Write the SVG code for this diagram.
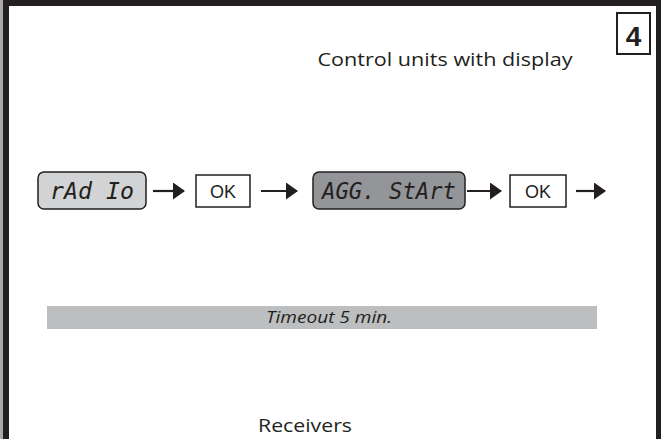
<svg xmlns="http://www.w3.org/2000/svg" width="663" height="439" viewBox="0 0 663 439">
<style>
.lbl{font-family:"Open Sans","Liberation Sans",sans-serif;fill:#231f20}
.seg{font-family:"DejaVu Sans Mono","Liberation Mono",monospace;font-style:oblique;fill:#231f20;font-size:23px}
.ok{font-family:"Liberation Sans",Arial,sans-serif;font-size:18px;fill:#231f20;text-anchor:middle}
.btn{fill:#ffffff;stroke:#231f20;stroke-width:1.5}
.disp{stroke:#231f20;stroke-width:1.5}
.conn line{stroke:#231f20;stroke-width:2.2}
</style>
<defs>
<marker id="ah" viewBox="0 0 12 17" refX="11" refY="8.5" markerWidth="12" markerHeight="17" markerUnits="userSpaceOnUse" orient="auto">
<path d="M0,0 L12,8.5 L0,17 Z" fill="#231f20"/>
</marker>
</defs>
<rect x="0" y="0" width="663" height="439" fill="#ffffff"/>
<rect x="0" y="0" width="3" height="439" fill="#a7a9ac"/>
<rect x="3" y="0" width="6" height="439" fill="#231f20"/>
<rect x="3" y="0" width="658" height="6" fill="#231f20"/>
<rect x="656" y="0" width="5" height="439" fill="#231f20"/>

<g id="badge">
<rect x="617" y="13" width="33" height="41" fill="#ffffff" stroke="#231f20" stroke-width="2"/>
<text x="633.5" y="46" font-family="Liberation Sans,Arial,sans-serif" font-weight="bold" font-size="28" text-anchor="middle" fill="#231f20">4</text>
</g>

<g id="title">
<text class="lbl" x="445" y="66" font-size="19" text-anchor="middle" textLength="255" lengthAdjust="spacingAndGlyphs">Control units with display</text>
</g>

<g id="radio">
<rect class="disp" x="38" y="172" width="108" height="37" rx="6" fill="#d1d3d4"/>
<text class="seg" x="92" y="199" text-anchor="middle" textLength="84" lengthAdjust="spacingAndGlyphs">rAd Io</text>
</g>

<g id="ok1">
<rect class="btn" x="196" y="175" width="54" height="32"/>
<text class="ok" x="223" y="198">OK</text>
</g>

<g id="aggstart">
<rect class="disp" x="313" y="172" width="152" height="37" rx="6" fill="#939598"/>
<text class="seg" x="389" y="199" text-anchor="middle" textLength="134" lengthAdjust="spacingAndGlyphs">AGG. StArt</text>
</g>

<g id="ok2">
<rect class="btn" x="510" y="175" width="56" height="32"/>
<text class="ok" x="538" y="198">OK</text>
</g>

<g id="connectors" class="conn">
<line x1="153" y1="191" x2="184" y2="191" marker-end="url(#ah)"/>
<line x1="261" y1="191" x2="297" y2="191" marker-end="url(#ah)"/>
<line x1="467" y1="191" x2="501" y2="191" marker-end="url(#ah)"/>
<line x1="576" y1="191" x2="605" y2="191" marker-end="url(#ah)"/>
</g>

<g id="timeout">
<rect x="47" y="306" width="550" height="23" fill="#bcbec0"/>
<text class="lbl" x="329" y="323" font-size="16" font-style="italic" text-anchor="middle" textLength="126" lengthAdjust="spacingAndGlyphs">Timeout 5 min.</text>
</g>

<g id="receivers">
<text class="lbl" x="305" y="432" font-size="19" text-anchor="middle" textLength="94" lengthAdjust="spacingAndGlyphs">Receivers</text>
</g>
</svg>
